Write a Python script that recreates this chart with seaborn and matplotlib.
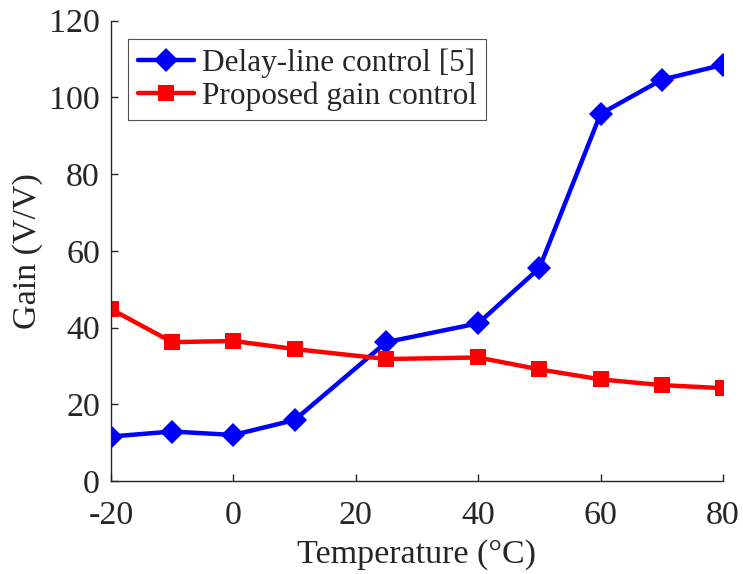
"""Gain versus temperature for two control schemes."""

import matplotlib

matplotlib.use("Agg")
import matplotlib.pyplot as plt
import pandas as pd
import seaborn as sns

temperature = [-20, -10, 0, 10, 25, 40, 50, 60, 70, 80]
delay_line_gain = [11.6, 12.9, 12.0, 15.9, 36.2, 41.1, 55.5, 95.7, 104.6, 108.5]
proposed_gain = [44.8, 36.2, 36.5, 34.4, 31.8, 32.2, 29.1, 26.5, 25.0, 24.2]

series_names = ["Delay-line control [5]", "Proposed gain control"]
x_ticks = [-20, 0, 20, 40, 60, 80]
y_ticks = [0, 20, 40, 60, 80, 100, 120]

df = pd.DataFrame(
    {
        "Temperature": temperature * 2,
        "Gain": delay_line_gain + proposed_gain,
        "Series": [series_names[0]] * len(temperature)
        + [series_names[1]] * len(temperature),
    }
)

sns.set_theme(style="ticks")
plt.rcParams["font.family"] = ["Liberation Serif", "DejaVu Serif"]
plt.rcParams["axes.unicode_minus"] = False
plt.rcParams["axes.edgecolor"] = "#262626"
plt.rcParams["xtick.color"] = "#262626"
plt.rcParams["ytick.color"] = "#262626"

fig = plt.figure(figsize=(7.43, 5.74), dpi=100)
ax = fig.add_axes([0.1494, 0.162, 0.8236, 0.802])

sns.lineplot(
    data=df,
    x="Temperature",
    y="Gain",
    hue="Series",
    style="Series",
    palette={series_names[0]: "#0000ff", series_names[1]: "#ff0000"},
    markers={series_names[0]: "D", series_names[1]: "s"},
    dashes=False,
    linewidth=3.2,
    markersize=11,
    markeredgewidth=0,
    ax=ax,
)
# MATLAB draws its diamonds a little bigger than the squares
for line in ax.lines:
    if line.get_marker() == "D":
        line.set_markersize(12.5)

ax.set_xlim(-20, 80)
ax.set_ylim(0, 120)
ax.set_xticks(x_ticks)
ax.set_yticks(y_ticks)
ax.tick_params(direction="in", length=5, width=1, labelsize=24.5)
ax.tick_params(axis="x", pad=14)
ax.tick_params(axis="y", pad=8)
ax.set_xlabel("Temperature (°C)", fontsize=24.5, labelpad=6)
ax.set_ylabel("Gain (V/V)", fontsize=24.5, labelpad=4)
for side in ["top", "right"]:
    ax.spines[side].set_visible(False)
for side in ["left", "bottom"]:
    ax.spines[side].set_linewidth(1)

leg = ax.legend(
    loc="upper left",
    bbox_to_anchor=(0.028, 0.96),
    fontsize=22.5,
    frameon=True,
    fancybox=False,
    edgecolor="#262626",
    handlelength=1.8,
    handletextpad=0.25,
    borderpad=0.3,
    labelspacing=0.1,
    borderaxespad=0,
)
leg.get_frame().set_linewidth(0.8)
for handle in leg.legend_handles:
    if handle.get_marker() == "D":
        handle.set_markersize(12.5)

fig.savefig("out.png", dpi=100)
